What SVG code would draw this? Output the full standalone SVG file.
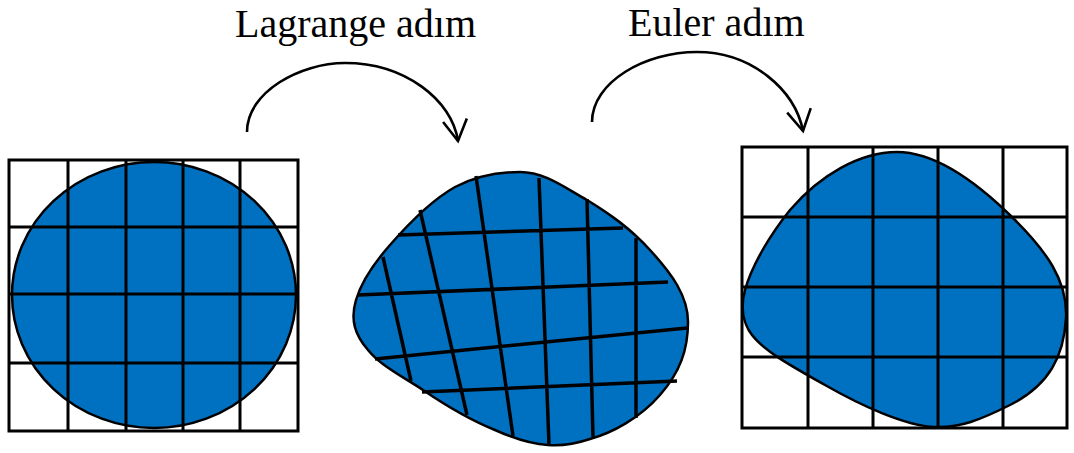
<svg xmlns="http://www.w3.org/2000/svg" width="1074" height="453" viewBox="0 0 1074 453">
<style>
.lbl{font-family:"Liberation Serif","Times New Roman",serif;font-size:40px;fill:#000}
.blob{fill:#0070C0;stroke:#000;stroke-width:2.5}
.grid{fill:none;stroke:#000;stroke-width:3;stroke-linecap:square}
.warp{fill:none;stroke:#000;stroke-width:3.5;stroke-linecap:butt}
.arc{fill:none;stroke:#000;stroke-width:2.6;marker-end:url(#vhead)}
</style>
<defs>
<marker id="vhead" markerUnits="userSpaceOnUse" markerWidth="40" markerHeight="40" viewBox="-30 -20 40 40" refX="0" refY="0" orient="auto">
<path d="M-21,-12 L0,0 L-21,12" fill="none" stroke="#000" stroke-width="2.6"/>
</marker>
</defs>
<rect width="1074" height="453" fill="#fff"/>
<g id="labels">
<text class="lbl" x="235" y="37">Lagrange adım</text>
<text class="lbl" x="628" y="36">Euler adım</text>
</g>
<g id="connectors">
<path class="arc" d="M247,132 C247,92 300,63 345,63 C405,63 452,100 458,141"/>
<path class="arc" d="M592,122 C592,82 645,52 697,52 C752,52 795,90 803,131"/>
</g>
<g id="lagrange-before">
<ellipse class="blob" cx="154" cy="295" rx="142" ry="133"/>
<path class="grid" d="M9,160 H298 V431 H9 Z M68,160 V431 M126,160 V431 M183,160 V431 M240,160 V431 M9,227 H298 M9,294 H298 M9,363 H298"/>
</g>
<g id="lagrange-after">
<path class="blob" d="M520,172 C545,172 565,188 587,200 C610,214 630,228 650,250 C672,274 688,296 688,322 C688,350 680,372 660,395 C640,418 612,433 590,439 C575,444 560,446 548,445 C530,444 515,439 495,430 C470,420 445,405 423,390 C400,375 380,365 368,350 C355,335 350,320 356,300 C362,280 375,262 390,245 C410,222 432,200 455,187 C478,175 500,172 520,172 Z"/>
<path class="warp" d="M398,235 L623,228 M358,295 L668,282 M375,359 L687,328 M422,392 L677,381 M383,257 L411,381 M420,210 L467,415 M476,176 L513,436 M539,178 L549,445 M587,199 L593,437 M636,238 L636,418"/>
</g>
<g id="euler-after">
<path class="blob" d="M897,152 C940,152 985,190 1015,220 C1045,250 1068,280 1066,318 C1064,355 1050,385 1010,405 C980,420 960,428 935,427 C905,426 860,405 825,385 C795,368 765,352 752,335 C742,322 741,305 745,290 C752,265 770,235 790,210 C820,175 860,152 897,152 Z"/>
<path class="grid" d="M742,147 H1067 V428 H742 Z M808,147 V428 M873,147 V428 M938,147 V428 M1003,147 V428 M742,217 H1067 M742,287 H1067 M742,357 H1067"/>
</g>
</svg>
